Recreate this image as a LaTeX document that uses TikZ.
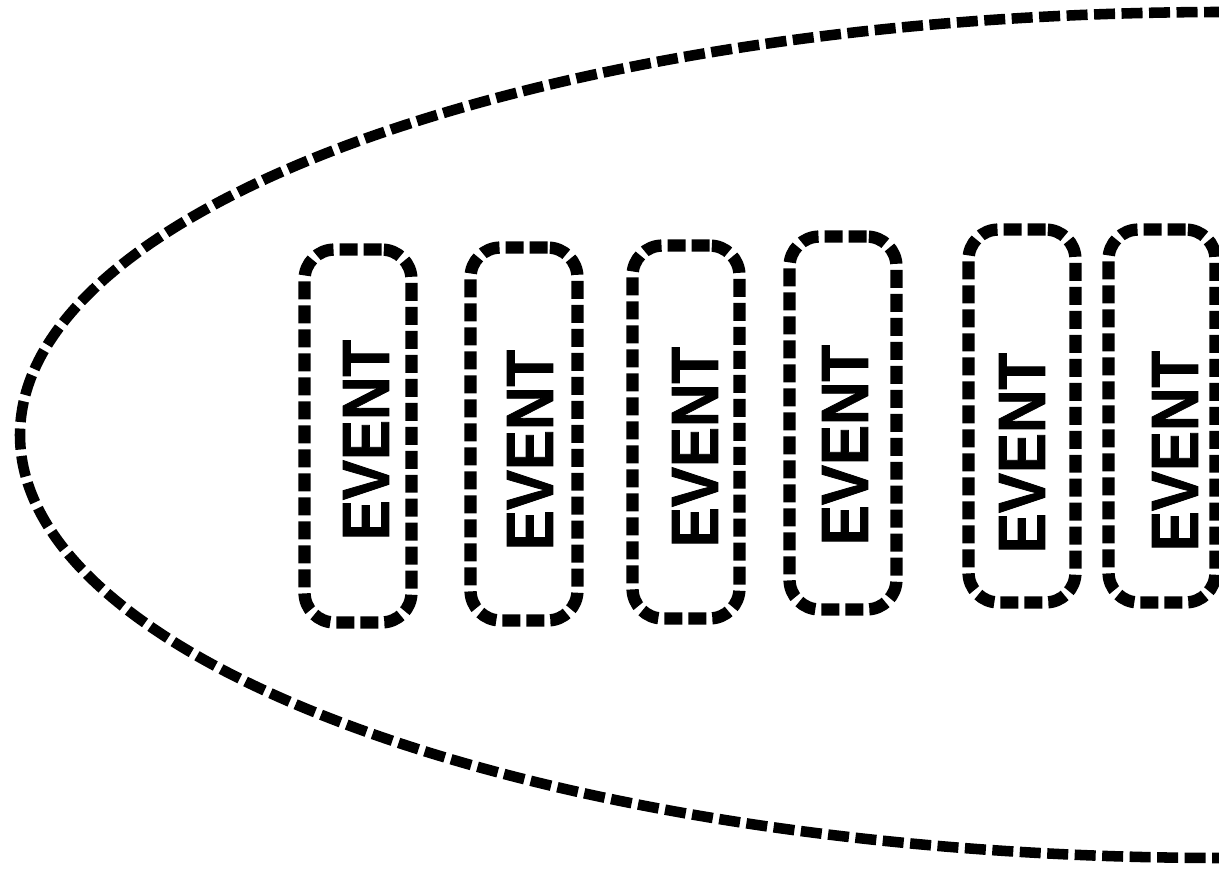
\documentclass[tikz,border=0pt]{standalone}
\usepackage{fontspec}
\usepackage{tikz}
\usetikzlibrary{positioning}
\newfontfamily\eventfont[FakeStretch=0.9, BoldFeatures={FakeBold=1.2}]{Liberation Sans}

\begin{document}
\begin{tikzpicture}[x=0.02cm, y=0.02cm,
    evbox/.style={rectangle, rounded corners=0.6cm, draw=black,
                  minimum width=2.14cm, minimum height=7.46cm,
                  line width=7pt, dash pattern=on 0.36cm off 0.12cm},
    evtext/.style={rotate=90, inner sep=0pt,
                   font=\eventfont\bfseries\fontsize{38}{40}\selectfont},
    bound/.style={line width=6pt, dash pattern=on 0.42cm off 0.13cm}
  ]
  \clip (0,0) rectangle (1219,869);
  \fill[white] (0,0) rectangle (1219,869);

  % outer boundary
  \coordinate (top) at (1225,857);
  \draw[bound] (top) arc[start angle=90, end angle=270,
                         x radius=1205, y radius=423];

  % event boxes
  \node[evbox] (b1) at ( 358,433) {};
  \node[evbox] (b2) at ( 524,435) {};
  \node[evbox] (b3) at ( 686,437) {};
  \node[evbox] (b4) at ( 843,446) {};
  \node[evbox] (b5) at (1022,453) {};
  \node[evbox] (b6) at (1162,453) {};

  \node[evtext] (t1) at ( 366,429) {EVENT};
  \node[evtext] (t2) at ( 530,419) {EVENT};
  \node[evtext] (t3) at ( 695,422) {EVENT};
  \node[evtext] (t4) at ( 845,424) {EVENT};
  \node[evtext] (t5) at (1022,416) {EVENT};
  \node[evtext] (t6) at (1175,418) {EVENT};
\end{tikzpicture}
\end{document}
